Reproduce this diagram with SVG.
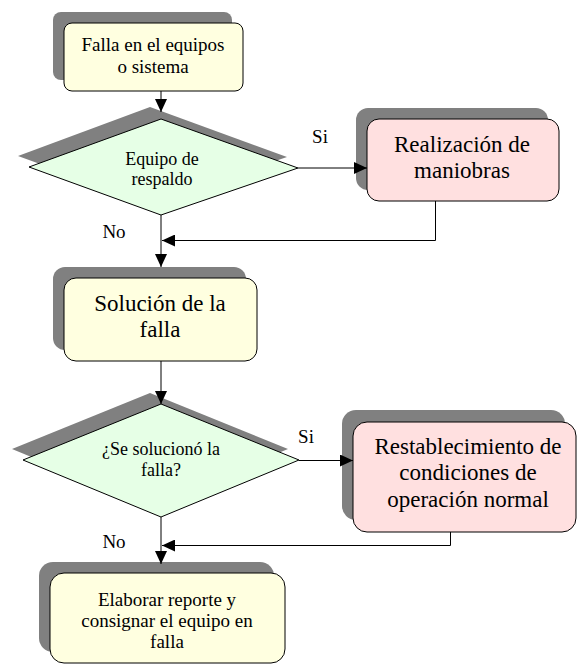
<svg xmlns="http://www.w3.org/2000/svg" width="577" height="665" viewBox="0 0 577 665">
<style>
.sh{fill:#808080;stroke:none}
.y{fill:#FFFFE0;stroke:#000;stroke-width:1}
.p{fill:#FFE0E0;stroke:#000;stroke-width:1}
.g{fill:#E6FFE6;stroke:#000;stroke-width:1}
.c{fill:none;stroke:#000;stroke-width:1}
text{fill:#000;text-anchor:middle}
.s{font-size:19px}
.d{font-size:18px}
.l{font-size:23px}
</style>
<defs>
<marker id="ah" viewBox="0 0 13 12" refX="13" refY="6" markerWidth="13" markerHeight="12" markerUnits="userSpaceOnUse" orient="auto">
<path d="M0,0 L13,6 L0,12 z" fill="#000"/>
</marker>
</defs>
<rect width="577" height="665" fill="#fff"/>
<g id="n1">
<rect class="sh" x="53" y="12" width="179" height="68" rx="8"/>
<rect class="y" x="64" y="23" width="179" height="68" rx="8"/>
<text class="s" x="153" y="51" style="font-family:'Liberation Serif',serif">Falla en el equipos</text>
<text class="s" x="153" y="73" style="font-family:'Liberation Serif',serif">o sistema</text>
</g>
<g id="d1">
<polygon class="sh" points="18,156 150,107 287,157 150,204"/>
<polygon class="g" points="29,167 161,119 298,168 161,215"/>
<text class="d" x="162" y="165" style="font-family:'Liberation Serif',serif">Equipo de</text>
<text class="d" x="162" y="185" style="font-family:'Liberation Serif',serif">respaldo</text>
</g>
<g id="n2">
<rect class="sh" x="356" y="108" width="192" height="82" rx="12"/>
<rect class="p" x="367" y="119" width="192" height="82" rx="12"/>
<text class="l" x="462" y="152" style="font-family:'Liberation Serif',serif">Realización de</text>
<text class="l" x="462" y="178" style="font-family:'Liberation Serif',serif">maniobras</text>
</g>
<g id="n3">
<rect class="sh" x="53" y="267" width="193" height="83" rx="12"/>
<rect class="y" x="64" y="278" width="193" height="83" rx="12"/>
<text class="l" x="160" y="311" style="font-family:'Liberation Serif',serif">Solución de la</text>
<text class="l" x="160" y="337" style="font-family:'Liberation Serif',serif">falla</text>
</g>
<g id="d2">
<polygon class="sh" points="12,449 150,393 288,449 150,506"/>
<polygon class="g" points="23,460 161,404 299,460 161,517"/>
<text class="d" x="161" y="455" style="font-family:'Liberation Serif',serif">¿Se solucionó la</text>
<text class="d" x="161" y="476" style="font-family:'Liberation Serif',serif">falla?</text>
</g>
<g id="n4">
<rect class="sh" x="342" y="410" width="223" height="110" rx="14"/>
<rect class="p" x="353" y="422" width="223" height="110" rx="14"/>
<text class="l" x="468" y="454" style="font-family:'Liberation Serif',serif">Restablecimiento de</text>
<text class="l" x="468" y="480" style="font-family:'Liberation Serif',serif">condiciones de</text>
<text class="l" x="468" y="507" style="font-family:'Liberation Serif',serif">operación normal</text>
</g>
<g id="n5">
<rect class="sh" x="39" y="562" width="235" height="90" rx="14"/>
<rect class="y" x="50" y="573" width="235" height="90" rx="14"/>
<text class="s" x="167" y="606" style="font-family:'Liberation Serif',serif">Elaborar reporte y</text>
<text class="s" x="167" y="627" style="font-family:'Liberation Serif',serif">consignar el equipo en</text>
<text class="s" x="167" y="648" style="font-family:'Liberation Serif',serif">falla</text>
</g>
<g id="connectors">
<path class="c" d="M161,91 V112" marker-end="url(#ah)"/>
<path class="c" d="M298,168 H367" marker-end="url(#ah)"/>
<path class="c" d="M435.5,201 V240.5 H162" marker-end="url(#ah)"/>
<path class="c" d="M161,215 V267" marker-end="url(#ah)"/>
<path class="c" d="M161,361 V404" marker-end="url(#ah)"/>
<path class="c" d="M299,460.5 H353" marker-end="url(#ah)"/>
<path class="c" d="M450.5,532 V545.5 H162" marker-end="url(#ah)"/>
<path class="c" d="M161,517 V564" marker-end="url(#ah)"/>
</g>
<g id="labels">
<text class="s" x="320" y="143" style="font-family:'Liberation Serif',serif">Si</text>
<text class="s" x="114" y="238" style="font-family:'Liberation Serif',serif">No</text>
<text class="s" x="306" y="443" style="font-family:'Liberation Serif',serif">Si</text>
<text class="s" x="114" y="548" style="font-family:'Liberation Serif',serif">No</text>
</g>
</svg>
